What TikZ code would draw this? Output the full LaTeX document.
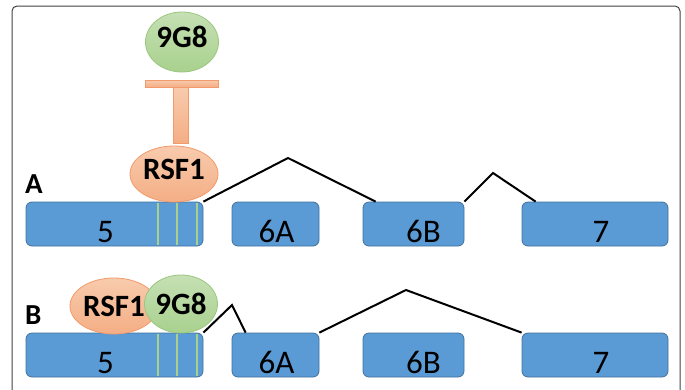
\documentclass[tikz,border=0pt]{standalone}
\usepackage{fontspec}
\setmainfont{Carlito}
\usetikzlibrary{shapes.geometric}
\definecolor{bleuexon}{HTML}{5B9BD5}
\definecolor{bordexon}{HTML}{41719C}
\definecolor{vertsite}{HTML}{A9D18E}
\definecolor{vertclair}{HTML}{C5E0B4}
\definecolor{vertfonce}{HTML}{A9D18E}
\definecolor{bordvert}{HTML}{9CC67F}
\definecolor{saumonclair}{HTML}{F8CBAD}
\definecolor{saumon}{HTML}{F4AE85}
\definecolor{bordsaumon}{HTML}{F29A6B}
\begin{document}
\begin{tikzpicture}[x=1pt,y=-1pt]
			\tikzstyle{exon}=[draw=bordexon,fill=bleuexon,line width=0.8pt,rounded corners=6pt,inner sep=0pt]
			\tikzstyle{etiquette}=[anchor=base,inner sep=0pt,font=\fontsize{33}{33}\selectfont]
			\tikzstyle{epissage}=[line width=2pt,black]
			\tikzstyle{site}=[line width=1.2pt,vertsite]
			\tikzstyle{proteine}=[ellipse,inner sep=0pt,line width=0.8pt,font=\bfseries\fontsize{31}{31}\selectfont]
			\tikzstyle{rsf}=[proteine,draw=bordsaumon,top color=saumonclair,bottom color=saumon]
			\tikzstyle{neufg}=[proteine,draw=bordvert,top color=vertclair,bottom color=vertfonce]
			\tikzstyle{barre}=[draw=bordsaumon,line width=0.8pt,top color=saumonclair,bottom color=saumon]
			\tikzstyle{lettre}=[anchor=base west,inner sep=0pt,font=\bfseries\fontsize{29}{29}\selectfont]
			\def\HautA{202}\def\HautB{333}\def\HauteurExon{44}
			\useasboundingbox (0,0) rectangle (685,389);
			\clip (0,0) rectangle (685,389);
			% cadre
			\draw[black!75,line width=1pt,rounded corners=5pt] (12,400) -- (12,6) -- (680,6) -- (680,400);
			% exons des deux lignes
			\foreach \l/\h in {A/\HautA,B/\HautB}{
				\foreach \n/\g/\d/\dx in {5/26/203/-9,6A/232/319/1,6B/363/464/10,7/522/668/6}{
					\pgfmathsetmacro\larg{\d-\g}
					\node[exon,minimum width=\larg pt,minimum height=\HauteurExon pt] (e\n\l) at ({(\g+\d)/2},{\h+\HauteurExon/2}) {};
					\node[etiquette,yshift=4pt] (t\n\l) at ([xshift=\dx pt]e\n\l.south) {\n};
				}
				\foreach \x in {158,177,197}
					\draw[site] (\x,\h+1) -- (\x,\h+\HauteurExon-1);
			}
			\node[lettre] (lettreA) at (25,193) {A};
			\node[lettre] (lettreB) at (25,324) {B};
			% ligne A
			\node[neufg,minimum width=73pt,minimum height=60pt,text depth=10pt] (ngA) at (182,42) {9G8};
			\draw[barre] (173,87) rectangle (188,143);
			\draw[barre] (145,80) rectangle (218,87);
			\node[rsf,minimum width=88pt,minimum height=56pt,text depth=10pt] (rsfA) at (174,174) {RSF1};
			\coordinate (sommetA1) at (288,158);
			\coordinate (sommetA2) at (493,173);
			\draw[epissage] (e5A.north east) -- (sommetA1) -- ([xshift=13pt]e6BA.north west);
			\draw[epissage] (e6BA.north east) -- (sommetA2) -- ([xshift=14pt]e7A.north west);
			% ligne B
			\node[rsf,minimum width=88pt,minimum height=56pt] (rsfB) at (114,306) {RSF1};
			\node[neufg,minimum width=73pt,minimum height=58pt] (ngB) at (181,304) {9G8};
			\coordinate (sommetB1) at (232,305);
			\coordinate (sommetB2) at (406,290);
			\draw[epissage] (e5B.north east) -- (sommetB1) -- ([xshift=14pt]e6AB.north west);
			\draw[epissage] (e6AB.north east) -- (sommetB2) -- (e7B.north west);
		\end{tikzpicture}
\end{document}
